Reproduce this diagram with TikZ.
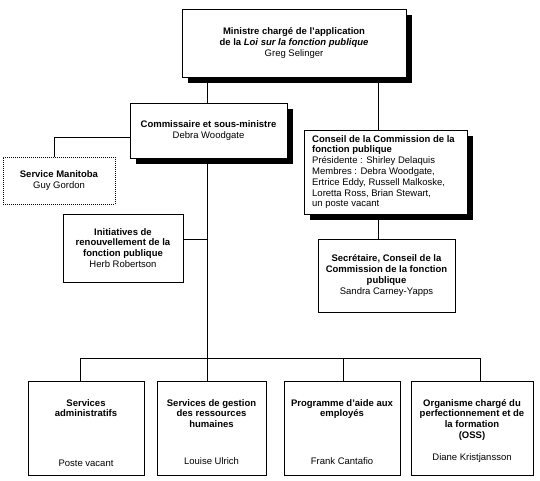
\documentclass[tikz,border=0pt]{standalone}
\usepackage{fontspec}
\setmainfont{Liberation Sans}
\usetikzlibrary{shadows}
\begin{document}
\begin{tikzpicture}[x=1pt,y=-1pt,
  every node/.style={font=\fontsize{9.5}{10.8}\selectfont, inner sep=0pt},
  box/.style={draw, line width=0.8pt, fill=white, rectangle},
  shadowbox/.style={box, drop shadow={shadow xshift=6pt, shadow yshift=-6pt, opacity=1, fill=black}},
  dashbox/.style={box, dash pattern=on 1pt off 1pt},
  conn/.style={line width=0.8pt},
  txt/.style={align=center}
]
\useasboundingbox (0,0) rectangle (540,481);

% x positions of connectors
\coordinate (xa) at (207,0);
\coordinate (xb) at (378,0);
\coordinate (xm) at (54,0);
\coordinate (bus) at (0,358);
\coordinate (d1) at (80,0);
\coordinate (d2) at (207,0);
\coordinate (d3) at (343,0);
\coordinate (d4) at (480,0);

% connectors first (behind boxes)
\node[shadowbox, minimum width=224pt, minimum height=68pt] (top) at (294,43) {};
\node[shadowbox, minimum width=157pt, minimum height=55pt] (comm) at (208.5,130.5) {};
\node[shadowbox, minimum width=163pt, minimum height=84pt] (cons) at (385.5,172) {};
\node[dashbox, minimum width=112pt, minimum height=47pt] (manit) at (59,180.5) {};
\node[box, minimum width=137pt, minimum height=73pt] (sec) at (386.5,275.5) {};
\node[box, minimum width=120pt, minimum height=68pt] (init) at (123,248) {};
\node[box, minimum width=116pt, minimum height=94pt] (b1) at (86,428) {};
\node[box, minimum width=109pt, minimum height=94pt] (b2) at (211.5,428) {};
\node[box, minimum width=116pt, minimum height=94pt] (b3) at (342,428) {};
\node[box, minimum width=122pt, minimum height=94pt] (b4) at (472,428) {};

% texts
\node[txt] (toptxt) at (top.center) {\textbf{Ministre chargé de l’application}\\\textbf{de la \textit{Loi sur la fonction publique}}\\Greg Selinger};
\node[txt] (commtxt) at (comm.center) {\textbf{Commissaire et sous-ministre}\\Debra Woodgate};
\node[align=left, anchor=west] (constxt) at (312,172) {\textbf{Conseil de la Commission de la}\\\textbf{fonction publique}\\Présidente : Shirley Delaquis\\Membres : Debra Woodgate,\\Ertrice Eddy, Russell Malkoske,\\Loretta Ross, Brian Stewart,\\un poste vacant};
\node[txt] (manittxt) at (manit.center) {\textbf{Service Manitoba}\\Guy Gordon};
\node[txt] (sectxt) at (sec.center) {\textbf{Secrétaire, Conseil de la}\\\textbf{Commission de la fonction}\\\textbf{publique}\\Sandra Carney-Yapps};
\node[txt] (inittxt) at (init.center) {\textbf{Initiatives de}\\\textbf{renouvellement de la}\\\textbf{fonction publique}\\Herb Robertson};

\node[txt, anchor=north] (t1) at (86,399) {\textbf{Services}\\\textbf{administratifs}};
\node[txt, anchor=north] (t2) at (211.5,399) {\textbf{Services de gestion}\\\textbf{des ressources}\\\textbf{humaines}};
\node[txt, anchor=north] (t3) at (342,399) {\textbf{Programme d’aide aux}\\\textbf{employés}};
\node[txt, anchor=north] (t4) at (472,399) {\textbf{Organisme chargé du}\\\textbf{perfectionnement et de}\\\textbf{la formation}\\\textbf{(OSS)}};
\node[anchor=base] (n1) at (86,466.5) {Poste vacant};
\node[anchor=base] (n2) at (211.5,464.5) {Louise Ulrich};
\node[anchor=base] (n3) at (342,464.5) {Frank Cantafio};
\node[anchor=base] (n4) at (472,460.5) {Diane Kristjansson};

% connectors
\draw[conn] (xa |- top.south) -- (xa |- comm.north);
\draw[conn] (xb |- top.south) -- (xb |- cons.north);
\draw[conn] (xb |- cons.south) -- (xb |- sec.north);
\coordinate (cy) at ([yshift=-6.5pt]comm.west);
\draw[conn] (cy) -| (xm |- manit.north);
\coordinate (iy) at ([yshift=9pt]init.east);
\draw[conn] (iy) -- (xa |- iy);
\draw[conn] (xa |- comm.south) -- (xa |- bus);
\draw[conn] (d1 |- bus) -- (d4 |- bus);
\draw[conn] (d1 |- bus) -- (d1 |- b1.north);
\draw[conn] (d2 |- bus) -- (d2 |- b2.north);
\draw[conn] (d3 |- bus) -- (d3 |- b3.north);
\draw[conn] (d4 |- bus) -- (d4 |- b4.north);
\end{tikzpicture}
\end{document}
